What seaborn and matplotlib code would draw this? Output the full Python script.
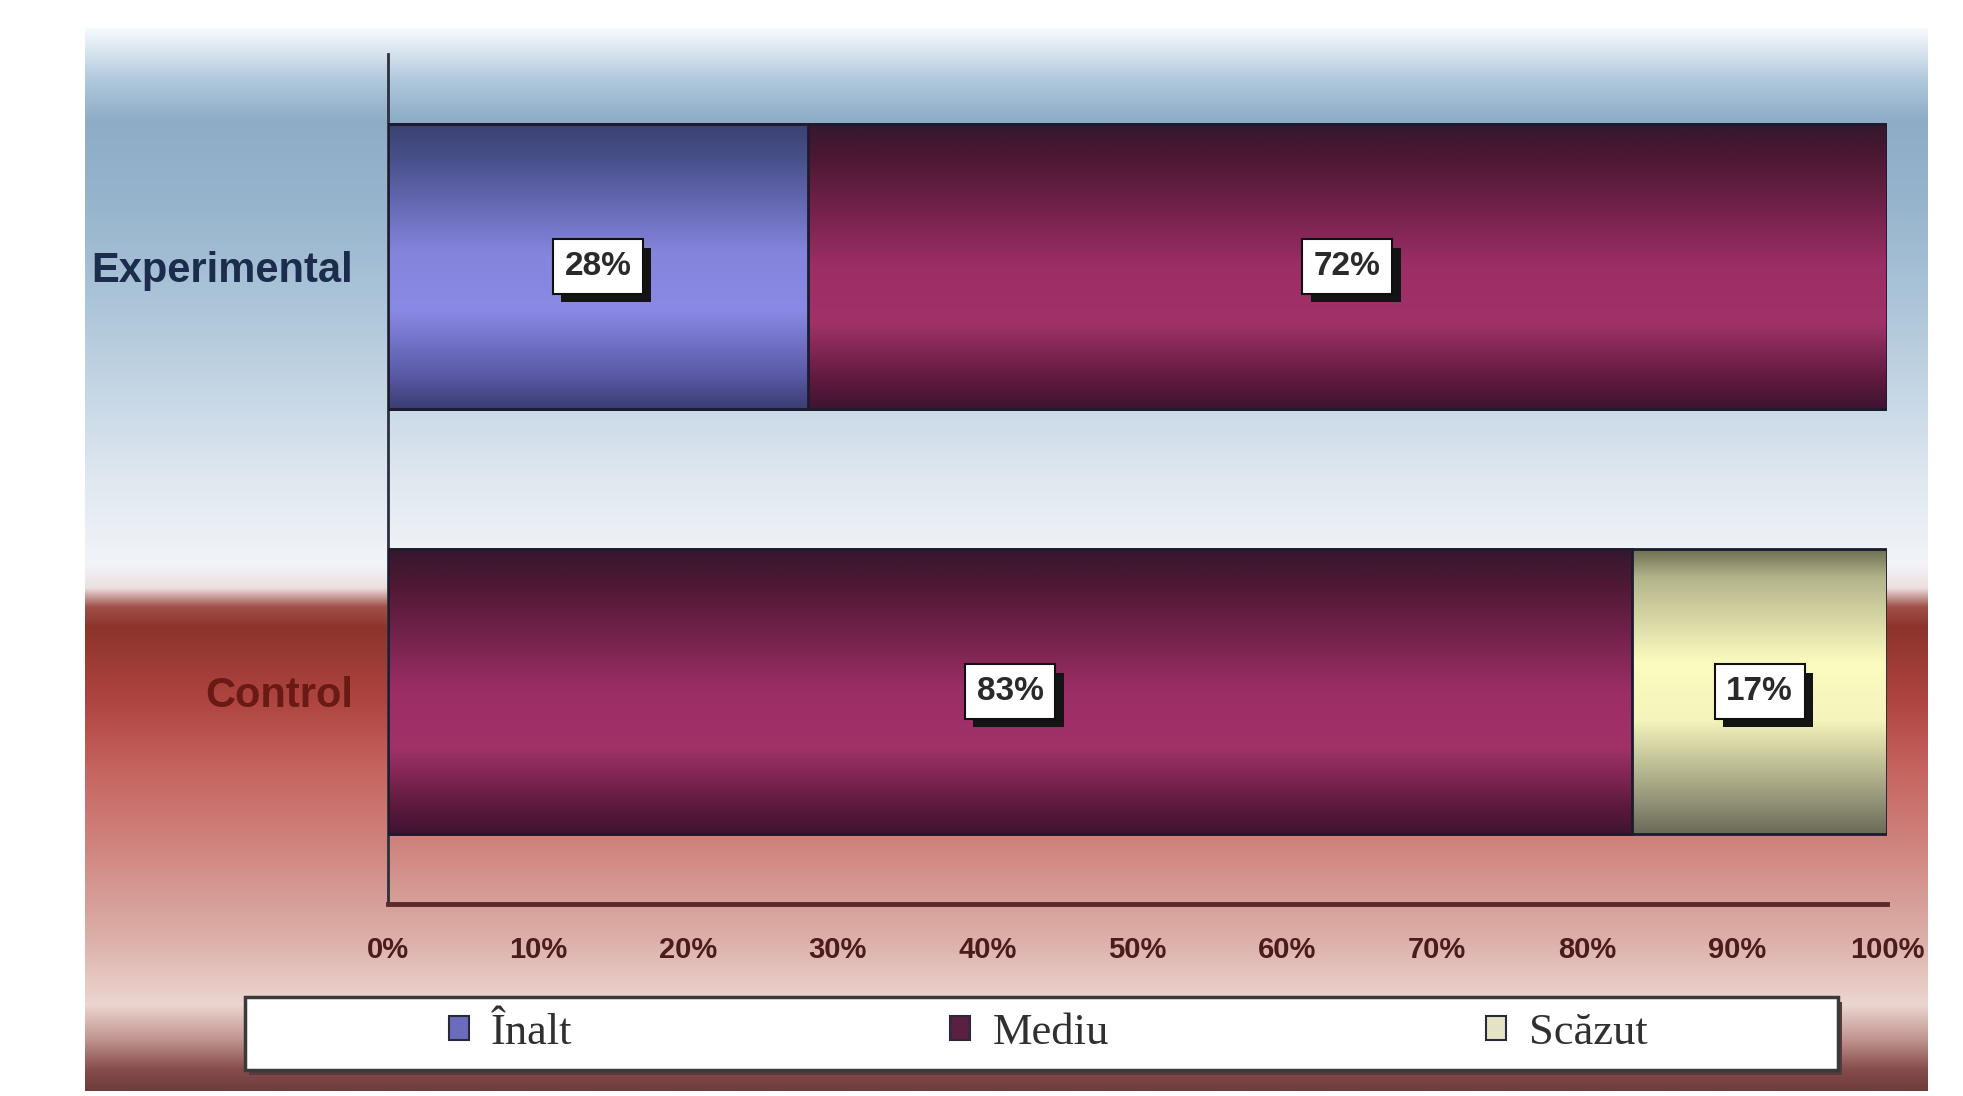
import numpy as np
import pandas as pd
import seaborn as sns
import matplotlib
matplotlib.use("Agg")
import matplotlib.pyplot as plt
import matplotlib.patheffects as pe
from matplotlib.patches import Patch, Rectangle

# data
groups = ["Experimental", "Control"]
inalt = [28, 0]
mediu = [72, 83]
scazut = [0, 17]
series_names = ["Înalt", "Mediu", "Scăzut"]
xticks = list(range(0, 101, 10))
xtick_labels = [f"{t}%" for t in xticks]

df = pd.DataFrame({"group": groups, "Înalt": inalt, "Mediu": mediu, "Scăzut": scazut})
df["cum_inalt"] = df["Înalt"]
df["cum_mediu"] = df["Înalt"] + df["Mediu"]
df["cum_scazut"] = df["cum_mediu"] + df["Scăzut"]


def hex2rgb(h):
    h = h.lstrip("#")
    return [int(h[i:i + 2], 16) / 255 for i in (0, 2, 4)]


def vgrad(stops, n=256):
    pos = np.array([s[0] for s in stops])
    cols = np.array([hex2rgb(s[1]) for s in stops])
    t = np.linspace(0, 1, n)
    out = np.stack([np.interp(t, pos, cols[:, k]) for k in range(3)], axis=1)
    return out[:, None, :]


bar_grads = {
    "Înalt": [(0, "#3a4270"), (0.12, "#48508a"), (0.45, "#8484dc"), (0.65, "#8a8ae6"),
              (0.88, "#5a5aa8"), (1, "#3a3e70")],
    "Mediu": [(0, "#34182e"), (0.12, "#4e1832"), (0.5, "#9c2e66"), (0.7, "#a03268"),
              (0.9, "#5e1a3e"), (1, "#3e1430")],
    "Scăzut": [(0, "#6e6e52"), (0.1, "#b4b48c"), (0.4, "#fcfcc0"), (0.6, "#f4f4bc"),
               (0.9, "#8e8e74"), (1, "#6a6a58")],
}
legend_cols = {"Înalt": "#6c6cbc", "Mediu": "#5a2040", "Scăzut": "#e4e4c4"}

sns.set_style("white")
plt.rcParams["font.family"] = ["Liberation Sans", "DejaVu Sans"]

W, H = 1963, 1096
fig = plt.figure(figsize=(W / 100, H / 100), dpi=100)
fig.patch.set_facecolor("white")

# chart area background gradient
bg = fig.add_axes([0, 0, 1, 1], zorder=0)
top, bot = 28, 1091
bg_stops = [(28, "#f8fafc"), (45, "#e0eaf2"), (80, "#b0c8dc"), (120, "#8eacc6"),
            (200, "#96b4cc"), (300, "#abc4d8"), (400, "#c8d8e6"), (480, "#e0e8f0"),
            (565, "#f2f4f8"), (588, "#ecdede"), (607, "#a05048"), (627, "#8c342c"),
            (700, "#ae4440"), (770, "#c66460"), (850, "#d08680"), (940, "#dcb0aa"),
            (1005, "#ecd6d0"), (1040, "#c09490"), (1070, "#864c4c"), (1091, "#6e3c3c")]
bg_stops = [((p - top) / (bot - top), c) for p, c in bg_stops]
bg.imshow(vgrad(bg_stops, 1063), extent=[85, 1928, bot, top], origin="upper",
          aspect="auto", interpolation="bilinear")
bg.set_xlim(0, W)
bg.set_ylim(H, 0)
bg.axis("off")

ax = fig.add_axes([388 / W, (H - 904) / H, 1499 / W, 850 / H], zorder=1)
ax.set_facecolor("none")

layers = [("Scăzut", "cum_scazut"), ("Mediu", "cum_mediu"), ("Înalt", "cum_inalt")]
z = 2
for name, col in layers:
    n0 = len(ax.patches)
    sns.barplot(data=df, x=col, y="group", orient="h", width=0.67, color="gray",
                errorbar=None, ax=ax)
    for p in ax.patches[n0:]:
        x0, y0, w, h = p.get_x(), p.get_y(), p.get_width(), p.get_height()
        if w <= 0:
            p.set_visible(False)
            continue
        ax.imshow(vgrad(bar_grads[name]), extent=[x0, x0 + w, y0 + h, y0],
                  origin="upper", aspect="auto", interpolation="bilinear", zorder=z)
        p.set_facecolor("none")
        p.set_edgecolor("#1e1a30")
        p.set_linewidth(2)
        p.set_zorder(z + 0.5)
    z += 2

ax.set_xlim(0, 100)
ax.set_ylim(1.5, -0.5)

# value labels in white boxes with a hard drop shadow
for i, g in enumerate(groups):
    left = 0
    for name, vals in zip(series_names, [inalt, mediu, scazut]):
        v = vals[i]
        if v > 0:
            t = ax.text(left + v / 2, i, f"{v}%", ha="center", va="center", fontsize=24,
                        fontweight="bold", color="#2a2a2a", zorder=11,
                        bbox=dict(boxstyle="square,pad=0.35", fc="white", ec="#101010", lw=1.5))
            t.get_bbox_patch().set_path_effects([
                pe.SimplePatchShadow(offset=(6, -6), shadow_rgbFace="#141414", alpha=1),
                pe.Normal()])
        left += v

ax.set_xticks(xticks)
ax.set_xticklabels(xtick_labels)
ax.set_xlabel("")
ax.set_ylabel("")
ax.tick_params(axis="x", length=7, width=2, color="#5a2a2a", direction="out",
               pad=16, labelsize=21, labelcolor="#4a1c1c")
ax.tick_params(axis="y", length=0, pad=25, labelsize=30)
for lab in ax.get_xticklabels():
    lab.set_fontweight("bold")
ycols = ["#1c2c4c", "#6a1a14"]
for lab, c in zip(ax.get_yticklabels(), ycols):
    lab.set_fontweight("bold")
    lab.set_color(c)

for s in ["top", "right"]:
    ax.spines[s].set_visible(False)
ax.spines["left"].set_color("#2a3040")
ax.spines["left"].set_linewidth(2)
ax.spines["bottom"].set_color("#5a2a2a")
ax.spines["bottom"].set_linewidth(3.5)

# legend with its own framed box
fig.add_artist(Rectangle((249 / W, 1 - 1075 / H), 1593 / W, 73 / H, transform=fig.transFigure,
                         facecolor="#5a3a3a", edgecolor="none", zorder=2))
fig.add_artist(Rectangle((245 / W, 1 - 1070 / H), 1593 / W, 73 / H, transform=fig.transFigure,
                         facecolor="white", edgecolor="#3a3a3a", lw=2.5, zorder=2.1))
handles = [Patch(facecolor=legend_cols[n], edgecolor="#2a2a3a", lw=1.5, label=n)
           for n in series_names]
leg = fig.legend(handles=handles, ncol=3, loc="center",
                 bbox_to_anchor=(1048 / W, 1 - 1033 / H), frameon=False,
                 prop={"family": "Liberation Serif", "size": 32},
                 handlelength=0.45, handleheight=0.45, handletextpad=0.5,
                 columnspacing=8.5, labelcolor="#303030")
leg.set_zorder(3)

fig.savefig("out.png", dpi=100)
